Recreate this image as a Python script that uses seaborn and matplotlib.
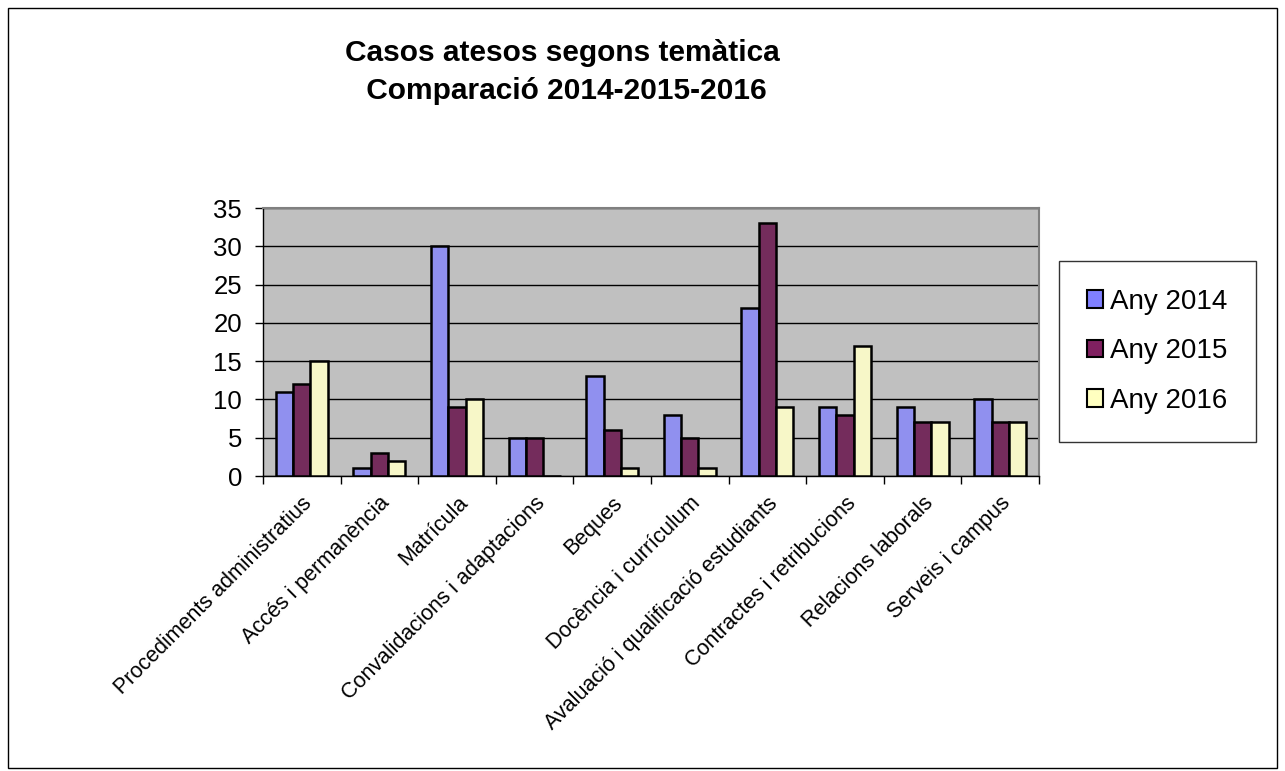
import matplotlib
matplotlib.use("Agg")
import matplotlib.pyplot as plt
import seaborn as sns
import pandas as pd
import numpy as np
from matplotlib.patches import Rectangle

categories = ["Procediments administratius", "Accés i permanència", "Matrícula",
              "Convalidacions i adaptacions", "Beques", "Docència i currículum",
              "Avaluació i qualificació estudiants", "Contractes i retribucions",
              "Relacions laborals", "Serveis i campus"]
any_2014 = [11, 1, 30, 5, 13, 8, 22, 9, 9, 10]
any_2015 = [12, 3, 9, 5, 6, 5, 33, 8, 7, 7]
any_2016 = [15, 2, 10, 0, 1, 1, 9, 17, 7, 7]
series_names = ["Any 2014", "Any 2015", "Any 2016"]
colors = ["#8080FF", "#802060", "#FFFFC0"]
yticks = [0, 5, 10, 15, 20, 25, 30, 35]

df = pd.DataFrame({
    "cat": categories * 3,
    "val": any_2014 + any_2015 + any_2016,
    "serie": [series_names[0]] * 10 + [series_names[1]] * 10 + [series_names[2]] * 10,
})

sns.set_style("white")
plt.rcParams['font.family'] = ['Liberation Sans', 'DejaVu Sans']
plt.rcParams['text.color'] = 'black'
plt.rcParams['xtick.color'] = 'black'
plt.rcParams['ytick.color'] = 'black'
plt.rcParams['axes.labelcolor'] = 'black'

fig = plt.figure(figsize=(12.85, 7.71), dpi=100)
ax = fig.add_axes([263/1285, 1-476/771, (1039-263)/1285, (476-208)/771])

sns.barplot(data=df, x="cat", y="val", hue="serie", palette=colors, order=categories,
            hue_order=series_names, width=0.67, edgecolor="black", linewidth=1.8,
            ax=ax, legend=False, zorder=3)

ax.set_facecolor("#C0C0C0")
ax.set_ylim(0, 35)
ax.set_xlim(-0.5, 9.5)
ax.set_yticks(yticks)
ax.yaxis.grid(True, color="black", linewidth=1.0, zorder=0)
ax.set_axisbelow(True)
ax.tick_params(axis="y", labelsize=18.5, length=6, width=1, direction="out", color="black",
               labelcolor="black", pad=9, left=True)
ax.set_xticks(np.arange(-0.5, 10, 1))
ax.set_xticklabels([])
ax.tick_params(axis="x", which="major", length=6, width=1, direction="out", bottom=True, color="black")
ax.set_xticks(range(10), minor=True)
ax.set_xticklabels(categories, minor=True, rotation=45, ha="right", rotation_mode="anchor",
                   fontsize=15.5, color="black")
ax.tick_params(axis="x", which="minor", length=0, pad=12)
ax.set_xlabel("")
ax.set_ylabel("")
for s in ["top", "right"]:
    ax.spines[s].set_color("#808080")
    ax.spines[s].set_linewidth(1.5)
for s in ["left", "bottom"]:
    ax.spines[s].set_color("black")
    ax.spines[s].set_linewidth(1.0)
    ax.spines[s].set_visible(True)

handles = [Rectangle((0, 0), 1, 1, facecolor=c, edgecolor="black", linewidth=1.5) for c in colors]
leg = fig.legend(handles, series_names, loc="upper left",
                 bbox_to_anchor=(1059/1285, 1-261/771), bbox_transform=fig.transFigure,
                 fontsize=20, frameon=True, fancybox=False, edgecolor="black",
                 handlelength=0.6, handleheight=0.6, handletextpad=0.25,
                 labelspacing=0.85, borderpad=1.0, borderaxespad=0)
leg.get_frame().set_linewidth(1.0)
for t in leg.get_texts():
    t.set_color("black")

fig.text(0.438, 1-53/771, "Casos atesos segons temàtica", ha="center", va="center",
         fontsize=21.5, fontweight="bold", color="black")
fig.text(0.438, 1-91/771, " Comparació 2014-2015-2016", ha="center", va="center",
         fontsize=21.5, fontweight="bold", color="black")

fig.patches.append(Rectangle((8/1285, 1-768/771), (1277-8)/1285, (768-8)/771,
                             transform=fig.transFigure, fill=False, edgecolor="black", linewidth=1.0))

fig.savefig("out.png", dpi=100, facecolor="white")
